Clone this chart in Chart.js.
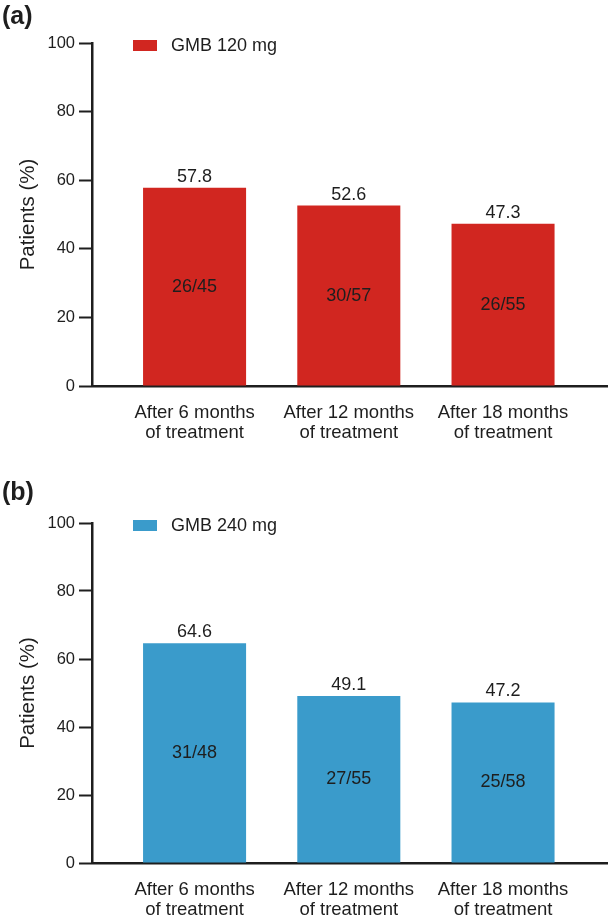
<!DOCTYPE html>
<html>
<head>
<meta charset="utf-8">
<script src="https://cdn.jsdelivr.net/npm/chart.js@4/dist/chart.umd.min.js"></script>
<style>
  html, body { margin: 0; padding: 0; background: #fff; overflow: hidden; }
  .panel { position: absolute; left: 0; width: 609px; height: 460px; }
</style>
</head>
<body>
<div class="panel" style="top:0px"><canvas id="chartA"></canvas></div>
<div class="panel" style="top:477px"><canvas id="chartB"></canvas></div>
<script>
// categories on the x axis
const categories = [
    ["After 6 months", "of treatment"],
    ["After 12 months", "of treatment"],
    ["After 18 months", "of treatment"]
];
const yTicks = [0, 20, 40, 60, 80, 100];

// panel (a) GMB 120 mg
const values120 = [57.8, 52.6, 47.3];
const responders120 = [26, 30, 26];
const totals120 = [45, 57, 55];

// panel (b) GMB 240 mg
const values240 = [64.6, 49.1, 47.2];
const responders240 = [31, 27, 25];
const totals240 = [48, 55, 58];

const FONT = '"Liberation Sans", Arial, sans-serif';
const INK = '#1e1e1e';

// draws panel letter, legend, value and n/N labels
const labelPlugin = {
    id: 'labels',
    afterDatasetsDraw(chart, args, opts) {
        const ctx = chart.ctx;
        const area = chart.chartArea;
        const ds = chart.data.datasets[0];
        ctx.save();
        ctx.fillStyle = INK;
        ctx.textBaseline = 'middle';

        // panel letter
        ctx.font = 'bold 25px ' + FONT;
        ctx.textAlign = 'left';
        ctx.fillText(opts.letter, 2, opts.letterY);

        // legend
        ctx.fillStyle = ds.backgroundColor;
        ctx.fillRect(133, area.top - 3, 24, 11);
        ctx.fillStyle = INK;
        ctx.font = '18px ' + FONT;
        ctx.fillText(ds.label, 171, area.top + 3);

        // bar labels
        const meta = chart.getDatasetMeta(0);
        ctx.textAlign = 'center';
        ctx.font = '18px ' + FONT;
        meta.data.forEach((bar, i) => {
            ctx.fillText(ds.data[i].y.toFixed(1), bar.x, bar.y - 11);
            ctx.fillText(opts.responders[i] + '/' + opts.totals[i], bar.x, (bar.y + bar.base) / 2);
        });
        ctx.restore();
    }
};

function makeChart(id, label, color, values, responders, totals, letter, letterY, topPad) {
    const ctx = document.getElementById(id).getContext('2d');
    return new Chart(ctx, {
        type: 'bar',
        data: {
            datasets: [{
                label: label,
                data: values.map((v, i) => ({ x: i, y: v })),
                backgroundColor: color,
                borderWidth: 0,
                categoryPercentage: 1,
                barPercentage: 0.668
            }]
        },
        options: {
            responsive: true,
            maintainAspectRatio: false,
            animation: false,
            layout: { padding: { top: topPad, right: 2, left: 0, bottom: 0 } },
            plugins: {
                legend: { display: false },
                tooltip: { enabled: false },
                labels: { letter: letter, letterY: letterY, responders: responders, totals: totals }
            },
            scales: {
                x: {
                    type: 'linear',
                    offset: false,
                    min: -0.665,
                    max: 2.674,
                    afterBuildTicks: (scale) => {
                        scale.ticks = categories.map((c, i) => ({ value: i }));
                    },
                    afterFit: (scale) => { scale.height = 74; },
                    grid: { display: false, offset: false, drawTicks: false },
                    border: { display: true, color: INK, width: 2.5 },
                    ticks: {
                        padding: 17,
                        color: INK,
                        maxRotation: 0,
                        autoSkip: false,
                        font: { family: FONT, size: 18.5, lineHeight: 1.081 },
                        callback: (v) => categories[v]
                    }
                },
                y: {
                    min: 0,
                    max: 100,
                    afterBuildTicks: (scale) => {
                        scale.ticks = yTicks.map((t) => ({ value: t }));
                    },
                    afterFit: (scale) => { scale.width = 92; },
                    grid: {
                        drawOnChartArea: false,
                        drawTicks: true,
                        tickLength: 13,
                        tickColor: INK,
                        tickWidth: 2
                    },
                    border: { display: true, color: INK, width: 2.5 },
                    ticks: {
                        padding: 4,
                        color: INK,
                        font: { family: FONT, size: 16.5 }
                    },
                    title: {
                        display: true,
                        text: 'Patients (%)',
                        color: INK,
                        padding: { top: 16, bottom: 0 },
                        font: { family: FONT, size: 20.5 }
                    }
                }
            }
        },
        plugins: [labelPlugin]
    });
}

makeChart('chartA', 'GMB 120 mg', '#d12620', values120, responders120, totals120, '(a)', 17, 43);
makeChart('chartB', 'GMB 240 mg', '#3a9bcb', values240, responders240, totals240, '(b)', 16, 46);
</script>
</body>
</html>
